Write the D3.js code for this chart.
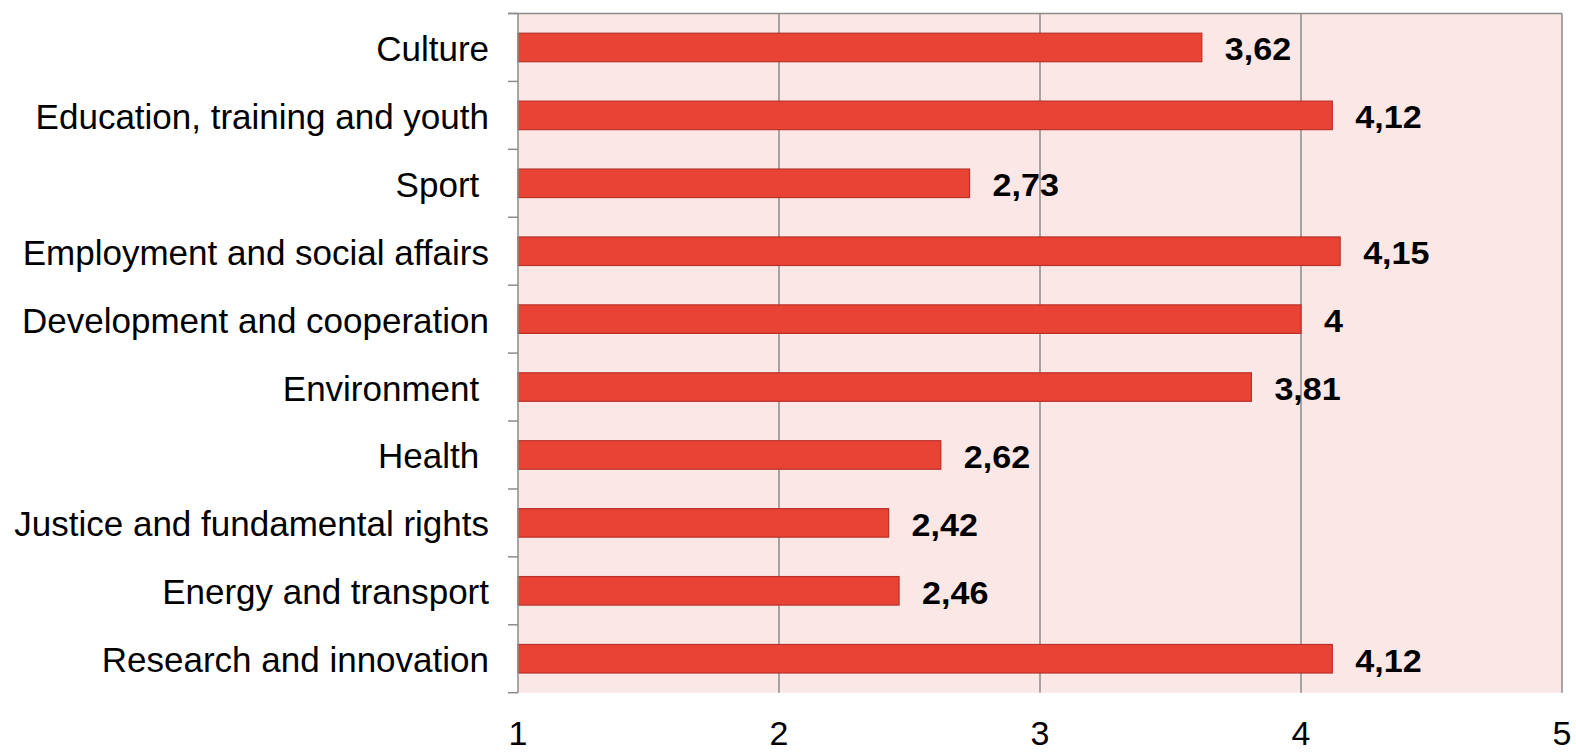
<!DOCTYPE html>
<html>
<head>
<meta charset="utf-8">
<script src="https://cdn.jsdelivr.net/npm/d3@7"></script>
<style>
  html, body { margin: 0; padding: 0; background: #ffffff; }
  svg { display: block; }
  text { font-family: "Liberation Sans", Arial, sans-serif; white-space: pre; }
</style>
</head>
<body>
<svg id="chart" width="1576" height="752"></svg>
<script>
const categories = [
  "Culture",
  "Education, training and youth",
  "Sport ",
  "Employment and social affairs",
  "Development and cooperation",
  "Environment ",
  "Health ",
  "Justice and fundamental rights",
  "Energy and transport",
  "Research and innovation"
];
const values = [3.62, 4.12, 2.73, 4.15, 4, 3.81, 2.62, 2.42, 2.46, 4.12];
const xTicks = [1, 2, 3, 4, 5];

const svg = d3.select("#chart");
const pLeft = 518, pRight = 1562, pTop = 13.5, pBottom = 692.7;

const x = d3.scaleLinear().domain([1, 5]).range([pLeft, pRight]);
const y = d3.scaleBand().domain(categories).range([pTop, pBottom])
  .paddingInner(0.58).paddingOuter(0.29);

const fmt = v => String(v).replace(".", ",");

// plot background
svg.append("rect")
  .attr("x", pLeft).attr("y", pTop)
  .attr("width", pRight - pLeft).attr("height", pBottom - pTop)
  .attr("fill", "#fbe7e6");

// vertical gridlines
svg.append("g").selectAll("line")
  .data(xTicks.filter(d => d > 1))
  .join("line")
  .attr("x1", d => x(d)).attr("x2", d => x(d))
  .attr("y1", pTop).attr("y2", pBottom)
  .attr("stroke", "#8c8c8c").attr("stroke-width", 1.5);

// top border
svg.append("line")
  .attr("x1", pLeft - 10).attr("x2", pRight)
  .attr("y1", pTop).attr("y2", pTop)
  .attr("stroke", "#8c8c8c").attr("stroke-width", 1.5);

// bars
svg.append("g").selectAll("rect")
  .data(categories)
  .join("rect")
  .attr("x", x(1))
  .attr("y", d => y(d))
  .attr("width", (d, i) => x(values[i]) - x(1))
  .attr("height", y.bandwidth())
  .attr("fill", "#e94336")
  .attr("stroke", "#b8322a")
  .attr("stroke-width", 1.2);

// left axis line and ticks at band boundaries
svg.append("line")
  .attr("x1", pLeft).attr("x2", pLeft)
  .attr("y1", pTop).attr("y2", pBottom)
  .attr("stroke", "#8c8c8c").attr("stroke-width", 1.5);
const step = y.step();
const bounds = d3.range(categories.length + 1).map(i => pTop + i * step);
svg.append("g").selectAll("line")
  .data(bounds)
  .join("line")
  .attr("x1", pLeft - 10).attr("x2", pLeft)
  .attr("y1", d => d).attr("y2", d => d)
  .attr("stroke", "#8c8c8c").attr("stroke-width", 1.5);

// category labels
svg.append("g").selectAll("text")
  .data(categories)
  .join("text")
  .attr("x", 489)
  .attr("y", d => y(d) + y.bandwidth() / 2 + 13.5)
  .attr("text-anchor", "end")
  .attr("font-size", 35)
  .attr("fill", "#000")
  .text(d => d);

// value labels
svg.append("g").selectAll("text")
  .data(categories)
  .join("text")
  .attr("transform", (d, i) => `translate(${x(values[i]) + 23},${y(d) + y.bandwidth() / 2 + 13}) scale(1.1,1)`)
  .attr("font-size", 31)
  .attr("font-weight", "bold")
  .attr("fill", "#000")
  .text((d, i) => fmt(values[i]));

// x tick labels
svg.append("g").selectAll("text")
  .data(xTicks)
  .join("text")
  .attr("x", d => x(d))
  .attr("y", 745)
  .attr("text-anchor", "middle")
  .attr("font-size", 34)
  .attr("fill", "#000")
  .text(d => d);
</script>
</body>
</html>
